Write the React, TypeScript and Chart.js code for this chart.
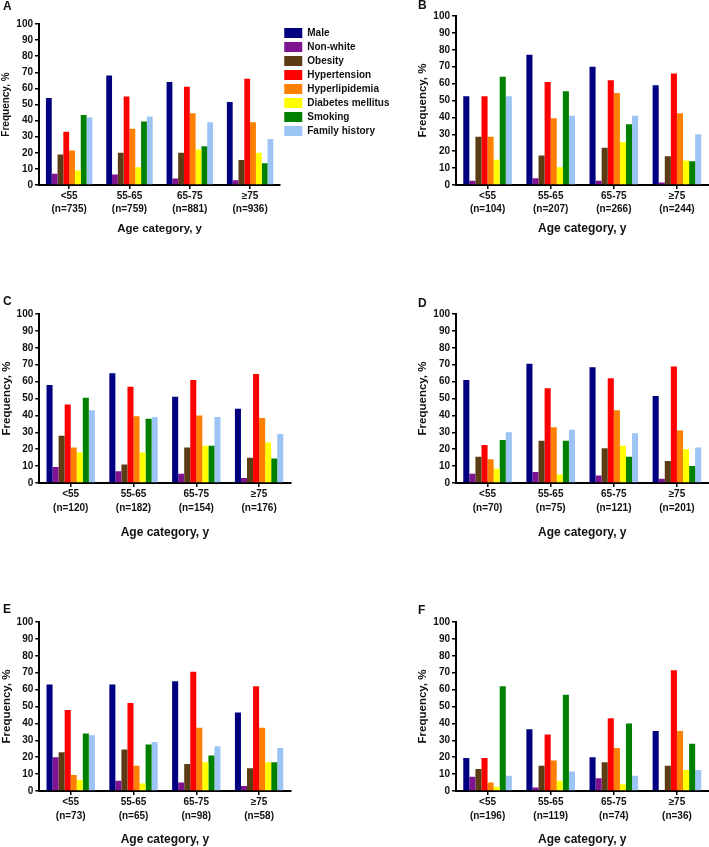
import React, { useEffect, useRef } from 'react';
import { Chart, registerables } from 'chart.js';

Chart.register(...registerables);

const FONT = "'Liberation Sans', Arial, Helvetica, sans-serif";
const TEXT = '#111111';

// ---------- data ----------
const ageGroups = ['<55', '55-65', '65-75', '≥75'];
const seriesNames = [
  'Male',
  'Non-white',
  'Obesity',
  'Hypertension',
  'Hyperlipidemia',
  'Diabetes mellitus',
  'Smoking',
  'Family history',
];
const seriesColors = ['#000080', '#7e1490', '#5c3c14', '#ff0000', '#ff8000', '#ffff00', '#008000', '#9cc4f5'];

const yTicks = [0, 10, 20, 30, 40, 50, 60, 70, 80, 90, 100];

const nA = ['(n=735)', '(n=759)', '(n=881)', '(n=936)'];
const nB = ['(n=104)', '(n=207)', '(n=266)', '(n=244)'];
const nC = ['(n=120)', '(n=182)', '(n=154)', '(n=176)'];
const nD = ['(n=70)', '(n=75)', '(n=121)', '(n=201)'];
const nE = ['(n=73)', '(n=65)', '(n=98)', '(n=58)'];
const nF = ['(n=196)', '(n=119)', '(n=74)', '(n=36)'];

// rows follow seriesNames, columns follow ageGroups
const valuesA = [
  [54, 68, 64, 51.5],
  [7, 6.5, 4, 3],
  [19, 20, 20, 15.5],
  [33, 55, 61, 66],
  [21.5, 35, 44.5, 39],
  [9, 11, 22, 20],
  [43.5, 39.5, 24, 13.5],
  [42, 42.5, 39, 28.5],
];
const valuesB = [
  [52.5, 77, 70, 59],
  [2.5, 4, 2.5, 1.5],
  [28.5, 17.5, 22, 17],
  [52.5, 61, 62, 66],
  [28.5, 39.5, 54.5, 42.5],
  [15, 10.5, 25.5, 14.5],
  [64, 55.5, 36, 14],
  [52.5, 41, 41, 30],
];
const valuesC = [
  [58, 65, 51, 44],
  [9.5, 7, 5.5, 3],
  [28, 11, 21, 15],
  [46.5, 57, 61, 64.5],
  [21, 39.5, 40, 38.5],
  [18, 18, 22, 24],
  [50.5, 38, 22, 14.5],
  [43, 39, 39, 29],
];
const valuesD = [
  [61, 70.5, 68.5, 51.5],
  [5.5, 6.5, 4.5, 2.5],
  [15.5, 25, 20.5, 13],
  [22.5, 56, 62, 69],
  [14, 33, 43, 31],
  [8.5, 5, 22, 20],
  [25.5, 25, 15.5, 10],
  [30, 31.5, 29.5, 21],
];
const valuesE = [
  [63, 63, 65, 46.5],
  [20, 6, 5, 3],
  [23, 24.5, 16, 13.5],
  [48, 52, 70.5, 62],
  [9.5, 15, 37.5, 37.5],
  [6.5, 4.5, 17, 17],
  [34, 27.5, 21, 17],
  [33, 29, 26.5, 25.5],
];
const valuesF = [
  [19.5, 36.5, 20, 35.5],
  [8.5, 2, 7.5, 0],
  [13, 15, 17, 15],
  [19.5, 33.5, 43, 71.5],
  [5, 18, 25.5, 35.5],
  [2.5, 6, 4, 12.5],
  [62, 57, 40, 28],
  [9, 11.5, 9, 12.5],
];

// ---------- layout ----------
type Panel = {
  letter: string;
  n: string[];
  values: number[][];
  box: { left: number; top: number; width: number; height: number };
  pad: { left: number; top: number; right: number; bottom: number };
  yWidth: number;
  yTitlePad: number;
  xHeight: number;
  yTitleSize: number;
  xTitleSize: number;
  tickLineHeight: number;
  letterPos: { x: number; y: number };
  legend: boolean;
};

const panels: Panel[] = [
  {
    letter: 'A', n: nA, values: valuesA,
    box: { left: -80, top: 0, width: 480, height: 236 },
    pad: { left: 0, top: 24, right: 0.5, bottom: 0 },
    yWidth: 119, yTitlePad: 80.5, xHeight: 51, yTitleSize: 10, xTitleSize: 11.5, tickLineHeight: 1.3,
    letterPos: { x: 83, y: 9.5 }, legend: true,
  },
  {
    letter: 'B', n: nB, values: valuesB,
    box: { left: 400, top: 0, width: 309, height: 236 },
    pad: { left: 15.6, top: 16, right: 0.5, bottom: 0 },
    yWidth: 40.4, yTitlePad: 0, xHeight: 51, yTitleSize: 11.5, xTitleSize: 12, tickLineHeight: 1.3,
    letterPos: { x: 18, y: 8.5 }, legend: false,
  },
  {
    letter: 'C', n: nC, values: valuesC,
    box: { left: 0, top: 290, width: 300, height: 250 },
    pad: { left: 0, top: 24, right: 9.5, bottom: 0 },
    yWidth: 39.3, yTitlePad: 0, xHeight: 57, yTitleSize: 11.5, xTitleSize: 12, tickLineHeight: 1.4,
    letterPos: { x: 3, y: 15 }, legend: false,
  },
  {
    letter: 'D', n: nD, values: valuesD,
    box: { left: 400, top: 290, width: 309, height: 250 },
    pad: { left: 15.6, top: 24, right: 0.5, bottom: 0 },
    yWidth: 40.4, yTitlePad: 0, xHeight: 57, yTitleSize: 11.5, xTitleSize: 12, tickLineHeight: 1.4,
    letterPos: { x: 18, y: 16.5 }, legend: false,
  },
  {
    letter: 'E', n: nE, values: valuesE,
    box: { left: 0, top: 600, width: 300, height: 247 },
    pad: { left: 0, top: 22, right: 9.5, bottom: 0 },
    yWidth: 39.3, yTitlePad: 0, xHeight: 56, yTitleSize: 11.5, xTitleSize: 12, tickLineHeight: 1.4,
    letterPos: { x: 3, y: 12.5 }, legend: false,
  },
  {
    letter: 'F', n: nF, values: valuesF,
    box: { left: 400, top: 600, width: 309, height: 247 },
    pad: { left: 15.6, top: 22, right: 0.5, bottom: 0 },
    yWidth: 40.4, yTitlePad: 0, xHeight: 56, yTitleSize: 11.5, xTitleSize: 12, tickLineHeight: 1.4,
    letterPos: { x: 18, y: 13.5 }, legend: false,
  },
];

const letterPlugin = {
  id: 'panelLetter',
  afterDraw(chart: any, _args: any, opts: any) {
    const ctx = chart.ctx;
    ctx.save();
    ctx.font = `bold 12px ${FONT}`;
    ctx.fillStyle = TEXT;
    ctx.textAlign = 'left';
    ctx.textBaseline = 'alphabetic';
    ctx.fillText(opts.text, opts.x, opts.y);
    ctx.restore();
  },
};

function makeChart(canvas: HTMLCanvasElement, p: Panel) {
  const bold = (size: number, lineHeight?: number) => ({
    family: FONT,
    size,
    weight: 'bold' as const,
    ...(lineHeight ? { lineHeight } : {}),
  });
  return new Chart(canvas, {
    type: 'bar',
    data: {
      labels: ageGroups.map((g, i) => [g, p.n[i]]),
      datasets: seriesNames.map((name, s) => ({
        label: name,
        data: p.values[s],
        backgroundColor: seriesColors[s],
        borderColor: seriesColors[s],
        borderWidth: 0,
        barPercentage: 1,
        categoryPercentage: 0.77,
      })),
    },
    options: {
      responsive: false,
      animation: false,
      devicePixelRatio: 1,
      layout: { padding: p.pad },
      plugins: {
        legend: p.legend
          ? {
              display: true,
              position: 'right',
              align: 'start',
              labels: {
                boxWidth: 18,
                boxHeight: 10,
                padding: 4,
                color: TEXT,
                font: bold(10),
              },
            }
          : { display: false },
        tooltip: { enabled: false },
        panelLetter: { text: p.letter, x: p.letterPos.x, y: p.letterPos.y },
      } as any,
      scales: {
        x: {
          grid: {
            display: true,
            drawOnChartArea: false,
            drawTicks: true,
            tickLength: 4,
            color: '#000',
            lineWidth: 1.5,
            offset: false,
          },
          border: { display: true, color: '#000', width: 2 },
          ticks: {
            color: TEXT,
            font: bold(10, p.tickLineHeight),
            padding: 0.5,
            maxRotation: 0,
            autoSkip: false,
          },
          title: {
            display: true,
            text: 'Age category, y',
            color: TEXT,
            font: bold(p.xTitleSize, 1.2),
            padding: 0,
          },
          afterFit: (s: any) => {
            s.height = p.xHeight;
          },
        },
        y: {
          min: yTicks[0],
          max: yTicks[yTicks.length - 1],
          afterBuildTicks: (s: any) => {
            s.ticks = yTicks.map((v) => ({ value: v }));
          },
          grid: {
            display: true,
            drawOnChartArea: false,
            drawTicks: true,
            tickLength: 4,
            color: '#000',
            lineWidth: 1.5,
          },
          border: { display: true, color: '#000', width: 2 },
          ticks: {
            color: TEXT,
            font: bold(10),
            padding: 2,
          },
          title: {
            display: true,
            text: 'Frequency, %',
            color: TEXT,
            font: bold(p.yTitleSize, 1.2),
            padding: { top: p.yTitlePad, bottom: 0 },
          },
          afterFit: (s: any) => {
            s.width = p.yWidth;
          },
        },
      } as any,
    },
    plugins: [letterPlugin as any],
  });
}

function PanelChart({ p }: { p: Panel }) {
  const ref = useRef<HTMLCanvasElement | null>(null);
  useEffect(() => {
    if (!ref.current) return;
    const chart = makeChart(ref.current, p);
    return () => chart.destroy();
  }, [p]);
  return (
    <canvas
      ref={ref}
      width={p.box.width}
      height={p.box.height}
      style={{
        position: 'absolute',
        left: p.box.left,
        top: p.box.top,
        width: p.box.width,
        height: p.box.height,
      }}
    />
  );
}

export default function App() {
  useEffect(() => {
    document.body.style.margin = '0';
    document.body.style.background = '#fff';
  }, []);
  return (
    <div
      style={{
        position: 'absolute',
        left: 0,
        top: 0,
        width: 709,
        height: 847,
        overflow: 'hidden',
        background: '#ffffff',
      }}
    >
      {panels.map((p) => (
        <PanelChart key={p.letter} p={p} />
      ))}
    </div>
  );
}
